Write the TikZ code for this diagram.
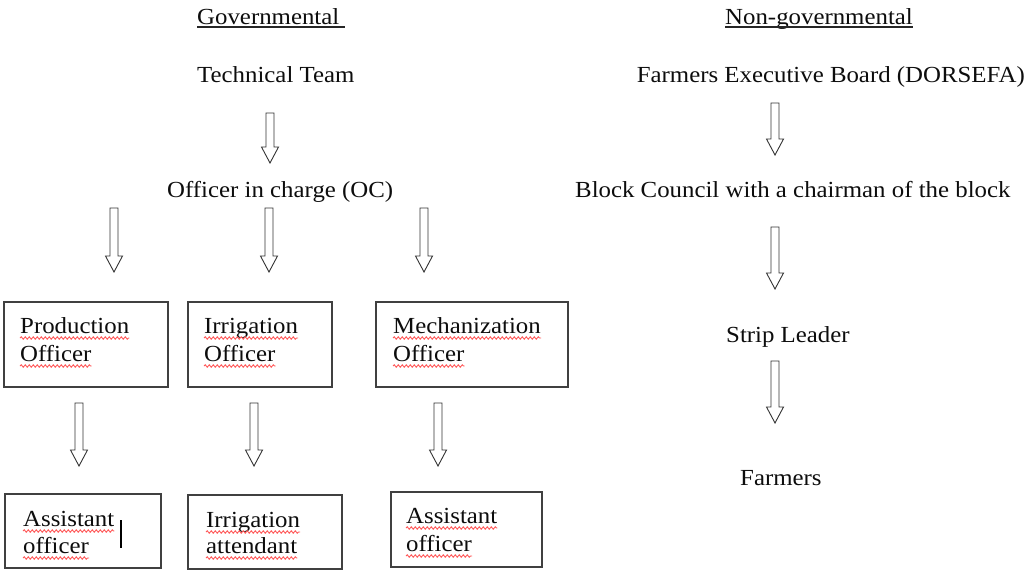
\documentclass[tikz,border=0pt]{standalone}
\usepackage{fontspec}
\setmainfont[FakeStretch=1.08]{Liberation Serif}
\usetikzlibrary{calc,decorations.pathmorphing}
\newcommand\sqline[1]{\draw[squig] ($(#1.base west)+(0,5)$) -- ($(#1.base east)+(0,5)$);}
\begin{document}
\begin{tikzpicture}[x=1pt,y=-1pt,
 txt/.style={inner sep=0pt, anchor=base west, font=\fontsize{23}{27}\selectfont, text=black!95},
 box/.style={draw=black!75, line width=1.4pt, inner sep=0pt},
 barrow/.style={draw=black!80, line width=0.9pt, line join=miter,
   to path={let \p1=(\tikztostart), \p2=(\tikztotarget) in
     (\x1-4pt,\y1) -- (\x1-4pt,\y2+16pt) -- (\x1-8.5pt,\y2+16pt) -- (\x1,\y2)
     -- (\x1+8.5pt,\y2+16pt) -- (\x1+4pt,\y2+16pt) -- (\x1+4pt,\y1) -- cycle}},
 squig/.style={draw=red!65, line width=0.9pt, decorate,
   decoration={snake, segment length=4pt, amplitude=1.2pt}},
 uline/.style={draw=black!85, line width=1.1pt}
]
\useasboundingbox[fill=white] (0,0) rectangle (1028,570);

% ---------- Governmental side ----------
\node[txt] (gov) at (197,24) {Governmental};
\draw[uline] ($(gov.base west)+(0,3)$) -- ($(gov.base east)+(6,3)$);
\node[txt] (tech) at (197,82) {Technical Team};
\node[txt] (oc) at (167,197) {Officer in charge (OC)};

\coordinate (a1s) at (270,113); \coordinate (a1e) at (270,163);
\draw[barrow] (a1s) to (a1e);

\coordinate (a2s) at (114,208); \coordinate (a2e) at (114,272);
\coordinate (a3s) at (269,208); \coordinate (a3e) at (269,272);
\coordinate (a4s) at (424,208); \coordinate (a4e) at (424,272);
\draw[barrow] (a2s) to (a2e);
\draw[barrow] (a3s) to (a3e);
\draw[barrow] (a4s) to (a4e);

% row 1 boxes
\node[box, minimum width=164pt, minimum height=85pt] (b1) at (86,344.5) {};
\node[box, minimum width=144pt, minimum height=85pt] (b2) at (260,344.5) {};
\node[box, minimum width=192pt, minimum height=85pt] (b3) at (472,344.5) {};
\node[txt] (b1a) at (20,333) {Production};
\node[txt] (b1b) at (20,361) {Officer};
\node[txt] (b2a) at (204,333) {Irrigation};
\node[txt] (b2b) at (204,361) {Officer};
\node[txt] (b3a) at (393,333) {Mechanization};
\node[txt] (b3b) at (393,361) {Officer};
\sqline{b1a}\sqline{b1b}\sqline{b2a}\sqline{b2b}\sqline{b3a}\sqline{b3b}

\coordinate (a5s) at (79,403); \coordinate (a5e) at (79,466);
\coordinate (a6s) at (254,403); \coordinate (a6e) at (254,466);
\coordinate (a7s) at (438,403); \coordinate (a7e) at (438,466);
\draw[barrow] (a5s) to (a5e);
\draw[barrow] (a6s) to (a6e);
\draw[barrow] (a7s) to (a7e);

% row 2 boxes
\node[box, minimum width=156pt, minimum height=74pt] (b4) at (83,531) {};
\node[box, minimum width=154pt, minimum height=74pt] (b5) at (265,532) {};
\node[box, minimum width=151pt, minimum height=75pt] (b6) at (466.5,529.5) {};
\node[txt] (b4a) at (23,526) {Assistant};
\node[txt] (b4b) at (23,553) {officer};
\node[txt] (b5a) at (206,527) {Irrigation};
\node[txt] (b5b) at (206,553) {attendant};
\node[txt] (b6a) at (406,523) {Assistant};
\node[txt] (b6b) at (406,551) {officer};
\sqline{b4a}\sqline{b4b}\sqline{b5a}\sqline{b5b}\sqline{b6a}\sqline{b6b}
% text cursor
\coordinate (cur1) at (121,520); \coordinate (cur2) at (121,548);
\draw[black, line width=2pt] (cur1) -- (cur2);

% ---------- Non-governmental side ----------
\node[txt] (ngov) at (725,24) {Non-governmental};
\draw[uline] ($(ngov.base west)+(0,3)$) -- ($(ngov.base east)+(0,3)$);
\node[txt, anchor=base east] (feb) at (1025,82) {Farmers Executive Board (DORSEFA)};
\node[txt] (bc) at (575,197) {Block Council with a chairman of the block};
\node[txt] (sl) at (726,342) {Strip Leader};
\node[txt] (fa) at (740,485) {Farmers};

\coordinate (r1s) at (775,103); \coordinate (r1e) at (775,155);
\coordinate (r2s) at (775,227); \coordinate (r2e) at (775,289);
\coordinate (r3s) at (775,361); \coordinate (r3e) at (775,423);
\draw[barrow] (r1s) to (r1e);
\draw[barrow] (r2s) to (r2e);
\draw[barrow] (r3s) to (r3e);
\end{tikzpicture}
\end{document}
